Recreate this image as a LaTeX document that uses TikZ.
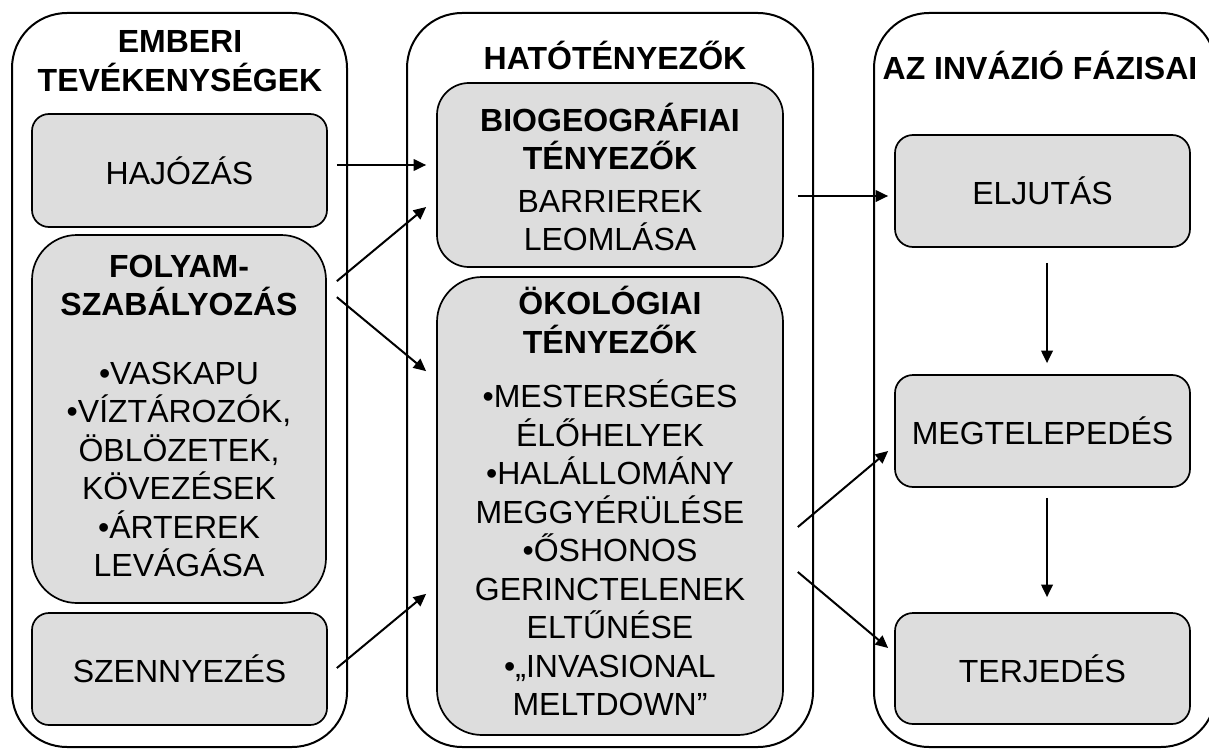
\documentclass[tikz,border=0pt]{standalone}
\usepackage{fontspec}
\setmainfont{Liberation Sans}
\usetikzlibrary{arrows.meta,calc}
\definecolor{boxgray}{RGB}{221,221,221}
\newcommand\bigtxt{\fontsize{32pt}{38.5pt}\selectfont}
\begin{document}
\begin{tikzpicture}[x=1pt,y=-1pt,
  panel/.style={draw=black, line width=2pt, rounded corners=55pt, inner sep=0pt},
  box/.style={draw=black, fill=boxgray, line width=1.7pt, inner sep=0pt, align=center, font=\bigtxt},
  ttl/.style={font=\bigtxt\bfseries, inner sep=0pt, align=center},
  arr/.style={line width=2pt, -{Triangle[length=12.5pt,width=11.5pt]}}]
\useasboundingbox (0,0) rectangle (1209,749);
% panels
\node[panel, minimum width=335pt, minimum height=734pt] (L) at (179.5,380) {};
\node[panel, minimum width=406pt, minimum height=734pt] (M) at (610,380) {};
\node[panel, minimum width=342pt, minimum height=734pt] (R) at (1045,380) {};
% titles
\node[ttl] (tL) at (180,61) {EMBERI\\TEVÉKENYSÉGEK};
\node[ttl, anchor=base] (tM) at (615,70) {HATÓTÉNYEZŐK};
\node[ttl, anchor=base] (tR) at (1040,80) {AZ INVÁZIÓ FÁZISAI};
% left boxes
\node[box, rounded corners=17pt, minimum width=295pt, minimum height=113pt] (haj) at (179.5,170.5) {HAJÓZÁS};
\node[box, rounded corners=45pt, minimum width=294pt, minimum height=368pt] (folyam) at (179,419)
  {\textbf{FOLYAM-}\\\textbf{SZABÁLYOZÁS}\\[30pt]•VASKAPU\\•VÍZTÁROZÓK,\\ÖBLÖZETEK,\\KÖVEZÉSEK\\•ÁRTEREK\\LEVÁGÁSA\rule[-6pt]{0pt}{6pt}};
\node[box, rounded corners=17pt, minimum width=295pt, minimum height=112pt] (szenny) at (179.5,669) {SZENNYEZÉS};
% middle boxes
\node[box, rounded corners=32pt, minimum width=346pt, minimum height=184pt] (bio) at (610,175)
  {\rule{0pt}{32pt}\textbf{BIOGEOGRÁFIAI}\\\textbf{TÉNYEZŐK}\\[4pt]BARRIEREK\\LEOMLÁSA};
\node[box, rounded corners=45pt, minimum width=346pt, minimum height=458pt] (oko) at (610,506)
  {\textbf{ÖKOLÓGIAI}\\\textbf{TÉNYEZŐK}\\[16pt]•MESTERSÉGES\\ÉLŐHELYEK\\•HALÁLLOMÁNY\\MEGGYÉRÜLÉSE\\•ŐSHONOS\\GERINCTELENEK\\ELTŰNÉSE\\•„INVASIONAL\\MELTDOWN”\rule[-10pt]{0pt}{10pt}};
% right boxes
\node[box, rounded corners=18pt, minimum width=295pt, minimum height=112pt] (elj) at (1042.5,191) {ELJUTÁS};
\node[box, rounded corners=18pt, minimum width=295pt, minimum height=112pt] (meg) at (1042.5,431) {MEGTELEPEDÉS};
\node[box, rounded corners=18pt, minimum width=295pt, minimum height=111pt] (terj) at (1042.5,668.5) {TERJEDÉS};
% arrows
\draw[arr] ($(haj.east)+(9,-5.5)$) -- ($(bio.west)+(-10,-10)$);
\draw[arr] ($(folyam.north east)+(10,47)$) -- ($(bio.west)+(-10,32)$);
\draw[arr] ($(folyam.north east)+(10,63)$) -- ($(oko.north west)+(-10,95)$);
\draw[arr] ($(szenny.east)+(9,-1)$) -- ($(oko.south west)+(-10,-142)$);
\draw[arr] ($(bio.east)+(14,21)$) -- ($(elj.west)+(-6,5)$);
\draw[arr] ($(oko.east)+(14,21)$) -- ($(meg.west)+(-6,20)$);
\draw[arr] ($(oko.east)+(14,66)$) -- ($(terj.west)+(-6,-20.5)$);
\draw[arr] ($(elj.south)+(4.5,15)$) -- ($(meg.north)+(4.5,-11)$);
\draw[arr] ($(meg.south)+(4.5,10)$) -- ($(terj.north)+(4.5,-15)$);
\end{tikzpicture}
\end{document}
